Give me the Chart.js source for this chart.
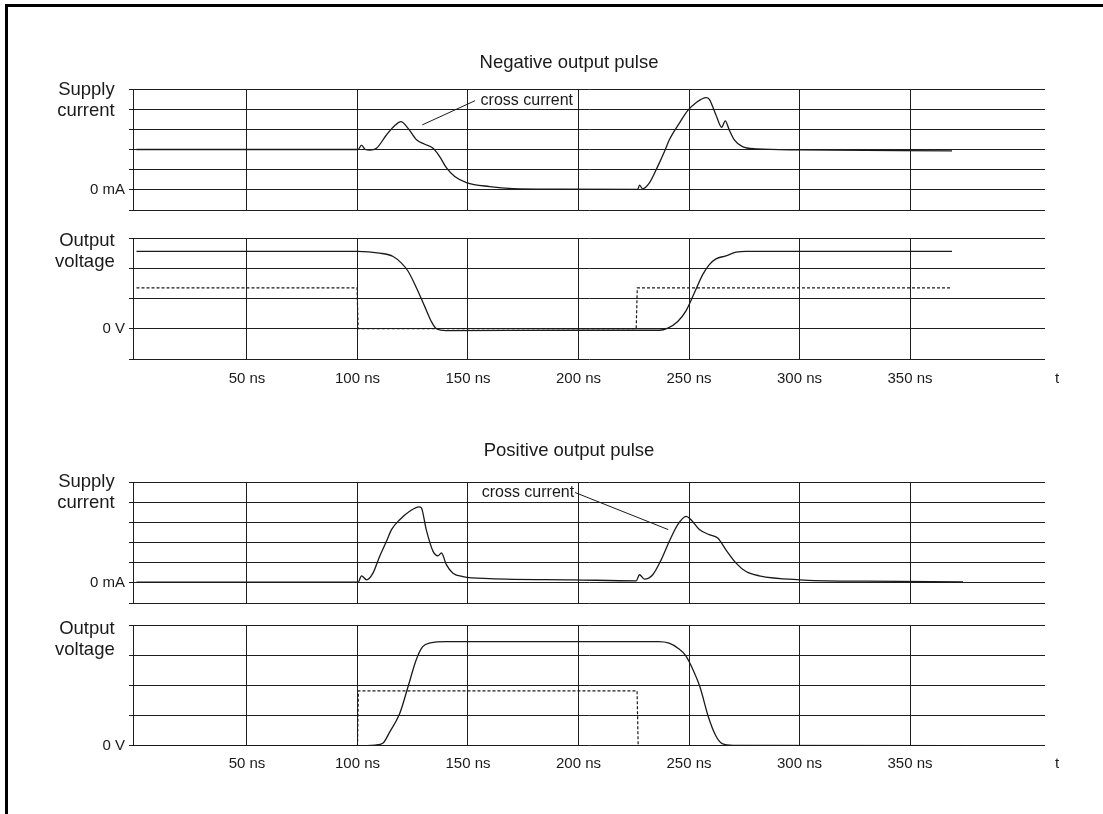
<!DOCTYPE html>
<html>
<head>
<meta charset="utf-8">
<script src="https://cdn.jsdelivr.net/npm/chart.js@4.4.1/dist/chart.umd.min.js"></script>
<style>
  body { margin: 0; background: #fff; }
  #page { position: relative; width: 1103px; height: 814px; overflow: hidden; background: #fff; }
  #frame { position: absolute; left: 5px; top: 4px; width: 1200px; height: 900px; border-top: 3px solid #000; border-left: 3px solid #000; }
  canvas { position: absolute; left: 0; }
</style>
</head>
<body>
<div id="page">
  <div id="frame"></div>
  <canvas id="negCurrent" width="1138" height="200" style="top:30px"></canvas>
  <canvas id="negVoltage" width="1138" height="200" style="top:220px"></canvas>
  <canvas id="posCurrent" width="1138" height="200" style="top:420px"></canvas>
  <canvas id="posVoltage" width="1138" height="209" style="top:605px"></canvas>
</div>
<script>
  // time in ns, values in grid divisions (0 = 0 mA / 0 V)
  const xTickValues = [50, 100, 150, 200, 250, 300, 350];
  const xEndLabelAt = 416.5; // where the "t" sits
  const currentTicks = [-1, 0, 1, 2, 3, 4, 5];
  const negVoltTicks = [-1, 0, 1, 2, 3];
  const posVoltTicks = [0, 1, 2, 3, 4];

  // negative output pulse
  const negCurrentT = [0, 100.3, 101.8, 103.5, 105.6, 108.6, 113.1, 117, 119.6, 122.9, 126.7, 130.4, 134.2, 137.2, 140.2, 144, 149.3, 159.8, 170.3, 190, 226.8, 227.6, 229, 232, 235.8, 238.9, 241.1, 245.6, 249.4, 253.2, 257.7, 259.2, 262.2, 264.8, 266.4, 268.2, 270.5, 274.2, 280.3, 300, 369];
  const negCurrentV = [2.0, 2.0, 2.22, 2.0, 1.97, 2.06, 2.72, 3.2, 3.38, 3.05, 2.48, 2.26, 2.06, 1.65, 1.1, 0.66, 0.36, 0.16, 0.06, 0.03, 0.02, 0.23, 0.05, 0.33, 1.15, 1.9, 2.48, 3.3, 3.93, 4.32, 4.57, 4.49, 3.71, 3.1, 3.42, 2.97, 2.48, 2.14, 2.03, 1.98, 1.93];
  const negVoltT = [0, 100, 110, 116.1, 119.9, 122.9, 126.7, 130.4, 133.4, 135.7, 140.2, 200, 236.6, 240.4, 244.9, 248.7, 252.4, 256.2, 259.2, 262.2, 266.7, 271.3, 275.8, 369];
  const negVoltV = [2.56, 2.56, 2.5, 2.39, 2.17, 1.9, 1.35, 0.74, 0.24, 0.0, -0.06, -0.05, -0.05, 0.02, 0.24, 0.6, 1.18, 1.79, 2.12, 2.31, 2.41, 2.53, 2.56, 2.56];
  const negInputT = [0, 99.8, 100.3, 226.1, 226.6, 369];
  const negInputV = [1.35, 1.35, 0, 0, 1.35, 1.35];

  // positive output pulse
  const posCurrentT = [0, 100.3, 101.8, 104.1, 107, 110, 113.1, 115.4, 119.1, 123.6, 127.8, 128.9, 131.1, 134.2, 136.4, 138, 140.2, 143.2, 147.7, 159.8, 197.4, 226.1, 227.6, 229.8, 233.6, 237.4, 241.1, 244.9, 248.7, 250.9, 254.7, 259.2, 263, 266.7, 271.3, 275.8, 281.8, 300, 330, 374];
  const posCurrentV = [0.03, 0.03, 0.35, 0.15, 0.48, 1.31, 2.06, 2.64, 3.13, 3.55, 3.77, 3.72, 2.64, 1.56, 1.34, 1.48, 0.9, 0.48, 0.31, 0.21, 0.15, 0.1, 0.4, 0.18, 0.4, 1.14, 2.06, 2.89, 3.3, 3.13, 2.64, 2.39, 2.22, 1.64, 0.98, 0.56, 0.35, 0.15, 0.08, 0.05];
  const posVoltT = [0, 100, 108, 111.6, 114.6, 119.1, 123, 126.5, 129.5, 133, 140, 236, 241, 245, 248.5, 252, 255, 258.6, 262, 265, 270, 374];
  const posVoltV = [0, 0, 0.02, 0.09, 0.46, 1.07, 2.0, 2.85, 3.3, 3.43, 3.47, 3.47, 3.42, 3.25, 3.0, 2.5, 1.95, 1.0, 0.35, 0.07, 0.01, 0];
  const posInputT = [0, 100, 100.4, 226.5, 227, 374];
  const posInputV = [0, 0, 1.83, 1.83, 0, 0];

  const negNote = { text: 'cross current', at: [155.7, 4.41], from: [153.2, 4.42], to: [129.3, 3.22] };
  const posNote = { text: 'cross current', at: [156.2, 4.48], from: [198.4, 4.48], to: [240.6, 2.64] };

  const FONT = "'Liberation Sans', Arial, sans-serif";
  const INK = '#1a1a1a';
  const GRID = '#1e1e1e';
  const NONE = 'rgba(0,0,0,0)';
  const X_MIN = -1.58;
  const X_MAX = 411.08;

  function pts(t, v) {
    return t.map((x, i) => ({ x: x, y: v[i] }));
  }

  function trace(t, v) {
    return { data: pts(t, v), yAxisID: 'y', borderColor: INK, borderWidth: 1.3, pointRadius: 0, fill: false, cubicInterpolationMode: 'monotone' };
  }

  function inputTrace(t, v) {
    return { data: pts(t, v), yAxisID: 'y', borderColor: INK, borderWidth: 1.2, borderDash: [3, 2], pointRadius: 0, fill: false, tension: 0 };
  }

  const crossNote = {
    id: 'crossNote',
    afterDatasetsDraw(chart, args, opts) {
      if (!opts.text) return;
      const xs = chart.scales.x, ys = chart.scales.y, c = chart.ctx;
      c.save();
      c.strokeStyle = INK;
      c.lineWidth = 1;
      c.beginPath();
      c.moveTo(xs.getPixelForValue(opts.from[0]), ys.getPixelForValue(opts.from[1]));
      c.lineTo(xs.getPixelForValue(opts.to[0]), ys.getPixelForValue(opts.to[1]));
      c.stroke();
      c.fillStyle = INK;
      c.font = '16px ' + FONT;
      c.textAlign = 'left';
      c.textBaseline = 'middle';
      c.fillText(opts.text, xs.getPixelForValue(opts.at[0]), ys.getPixelForValue(opts.at[1]));
      c.restore();
    }
  };

  function makePanel(canvasId, cfg) {
    const isName = ctx => ctx.tick && ctx.tick.value === cfg.nameAt;
    return new Chart(document.getElementById(canvasId), {
      type: 'line',
      data: { datasets: cfg.datasets },
      options: {
        responsive: false,
        animation: false,
        events: [],
        layout: { padding: { left: 0, right: 0, top: cfg.padTop, bottom: cfg.padBottom } },
        plugins: {
          legend: { display: false },
          tooltip: { enabled: false },
          title: cfg.title ? {
            display: true,
            text: cfg.title,
            color: INK,
            font: { family: FONT, size: 18.5, weight: 'normal', lineHeight: 1.2 },
            padding: { top: cfg.titleTop, bottom: cfg.titleBottom }
          } : { display: false },
          crossNote: cfg.note || {}
        },
        scales: {
          x: {
            type: 'linear',
            min: X_MIN,
            max: X_MAX,
            afterBuildTicks: s => {
              const v = cfg.showX ? xTickValues.concat([xEndLabelAt]) : xTickValues;
              s.ticks = v.map(value => ({ value: value }));
            },
            afterFit: s => { s.height = cfg.showX ? 40 : 0; },
            grid: {
              color: ctx => (ctx.tick && xTickValues.includes(ctx.tick.value)) ? GRID : NONE,
              lineWidth: 1,
              drawTicks: false
            },
            border: { display: false },
            ticks: {
              display: !!cfg.showX,
              autoSkip: false,
              maxRotation: 0,
              padding: cfg.xPad || 0,
              color: INK,
              font: { family: FONT, size: 15 },
              callback: v => v === xEndLabelAt ? 't' : v + ' ns'
            }
          },
          y: {
            type: 'linear',
            position: 'left',
            min: cfg.yTicks[0],
            max: cfg.yTicks[cfg.yTicks.length - 1],
            afterBuildTicks: s => {
              s.ticks = cfg.yTicks.concat([cfg.nameAt]).sort((a, b) => a - b).map(value => ({ value: value }));
            },
            afterFit: s => { s.width = 133; },
            grid: {
              color: ctx => isName(ctx) ? NONE : GRID,
              tickColor: ctx => isName(ctx) ? NONE : GRID,
              lineWidth: 1,
              tickLength: 4
            },
            border: { display: true, color: GRID, width: 1 },
            ticks: {
              autoSkip: false,
              padding: 4,
              color: INK,
              font: ctx => isName(ctx) ? { family: FONT, size: 18.5, lineHeight: 1.15 } : { family: FONT, size: 15 },
              callback: v => v === 0 ? cfg.zeroLabel : (v === cfg.nameAt ? cfg.name : '')
            }
          },
          // empty box on the right so the title centres where the original has it
          spacer: {
            type: 'linear',
            position: 'right',
            min: cfg.yTicks[0],
            max: cfg.yTicks[cfg.yTicks.length - 1],
            afterFit: s => { s.width = 93; },
            grid: { display: false },
            border: { display: false },
            ticks: { display: false }
          }
        }
      },
      plugins: [crossNote]
    });
  }

  makePanel('negCurrent', {
    title: 'Negative output pulse', titleTop: 21.6, titleBottom: 15.2,
    padTop: 0, padBottom: 20,
    yTicks: currentTicks, nameAt: 4.45, name: ['Supply  ', 'current  '], zeroLabel: '0 mA',
    datasets: [trace(negCurrentT, negCurrentV)],
    note: negNote
  });

  makePanel('negVoltage', {
    padTop: 18, padBottom: 21, showX: true, xPad: 11,
    yTicks: negVoltTicks, nameAt: 2.55, name: ['Output  ', 'voltage  '], zeroLabel: '0 V',
    datasets: [inputTrace(negInputT, negInputV), trace(negVoltT, negVoltV)]
  });

  makePanel('posCurrent', {
    title: 'Positive output pulse', titleTop: 19.9, titleBottom: 19.9,
    padTop: 0, padBottom: 17,
    yTicks: currentTicks, nameAt: 4.5, name: ['Supply  ', 'current  '], zeroLabel: '0 mA',
    datasets: [trace(posCurrentT, posCurrentV)],
    note: posNote
  });

  makePanel('posVoltage', {
    padTop: 20.7, padBottom: 28.3, showX: true, xPad: 9,
    yTicks: posVoltTicks, nameAt: 3.55, name: ['Output  ', 'voltage  '], zeroLabel: '0 V',
    datasets: [inputTrace(posInputT, posInputV), trace(posVoltT, posVoltV)]
  });
</script>
</body>
</html>
